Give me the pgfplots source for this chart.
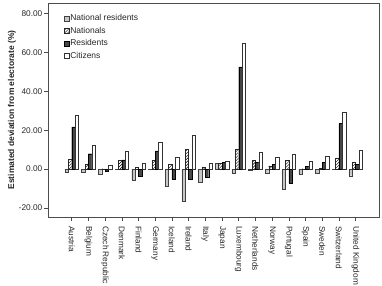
\documentclass[border=0pt]{standalone}
\usepackage{pgfplots}
\pgfplotsset{compat=1.18}
\usepackage{pgfplotstable}
\usepackage{fontspec}
\setmainfont{Liberation Sans}
\usetikzlibrary{patterns}

% Deviation from electorate by country and definition of the population
\pgfplotstableread{
idx nr nat res cit
0 -1.7 5.0 21.7 27.7
1 -1.7 2.6 7.9 12.1
2 -2.6 0.2 -1.0 1.9
3 -0.3 4.4 4.8 9.2
4 -5.6 0.9 -3.6 2.9
5 -0.2 4.6 9.4 14.0
6 -8.7 2.6 -5.1 6.2
7 -16.4 10.3 -5.1 17.3
8 -6.5 1.2 -4.4 3.1
9 2.9 3.1 3.6 4.1
10 -2.2 10.3 52.5 64.8
11 -0.5 4.4 3.6 8.9
12 -1.9 1.7 2.6 6.2
13 -10.3 4.4 -7.2 7.4
14 -2.6 0.2 1.4 4.1
15 -2.2 0.3 3.6 6.5
16 -0.3 5.8 23.4 29.2
17 -3.4 3.6 2.6 9.7
}\devdata

\begin{document}
\begin{tikzpicture}
\begin{axis}[
  scale only axis,
  width=331bp, height=214bp,
  ybar=0pt,
  bar width=0.204,
  legend image code/.code={\draw[#1] (0bp,-2.5bp) rectangle (5bp,2.5bp);},
  xmin=-1.42, xmax=18.4,
  ymin=-24.6, ymax=85.3,
  ytick={-20,0,20,40,60,80},
  xtick=data,
  xticklabels={Austria,Belgium,Czech Republic,Denmark,Finland,Germany,Iceland,Ireland,Italy,Japan,Luxembourg,Netherlands,Norway,Portugal,Spain,Sweden,Switzerland,United Kingdom},
  xtick pos=left, ytick pos=left,
  tick align=outside,
  major tick length=4bp,
  axis line style={black!70, line width=0.6pt},
  tick style={black!70, line width=0.5pt},
  xticklabel style={rotate=-90, anchor=west, inner sep=1bp},
  xticklabel shift=4bp,
  yticklabel style={inner sep=1.5bp},
  /pgf/number format/.cd, fixed, fixed zerofill, precision=2, assume math mode=true,
  /pgfplots/.cd,
  tick label style={font=\fontsize{8.3}{10}\selectfont, text=black!85},
  ylabel={Estimated deviation from electorate (\%)},
  ylabel style={font=\fontsize{8.5}{10}\selectfont\bfseries, text=black!85, yshift=-2bp},
  legend cell align=left,
  legend style={at={(0.045,0.955)}, anchor=north west, draw=none, fill=none,
    font=\fontsize{8.5}{10}\selectfont, text=black!85,
    row sep=3.2bp, inner sep=1bp,
    nodes={inner sep=0.8bp}},
]
\addplot[fill=black!22, draw=black!75, line width=0.4pt] table[x=idx, y=nr] {\devdata};
\addlegendentry{National residents}
\addplot[pattern=north east lines, draw=black!85, line width=0.4pt] table[x=idx, y=nat] {\devdata};
\addlegendentry{Nationals}
\addplot[fill=black!72, draw=black, line width=0.4pt] table[x=idx, y=res] {\devdata};
\addlegendentry{Residents}
\addplot[fill=white, draw=black!80, line width=0.4pt] table[x=idx, y=cit] {\devdata};
\addlegendentry{Citizens}
\end{axis}
\pgfresetboundingbox
\path[use as bounding box] (-48bp,-69bp) rectangle (334bp,217bp);
\end{tikzpicture}
\end{document}
